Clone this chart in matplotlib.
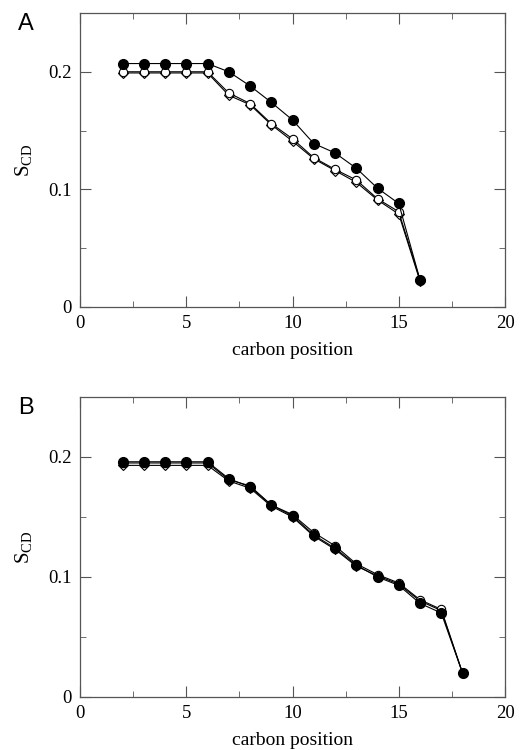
import matplotlib
matplotlib.use("Agg")
import matplotlib.pyplot as plt
from matplotlib.ticker import MultipleLocator, FuncFormatter

# panel A
carbon_a = [2, 3, 4, 5, 6, 7, 8, 9, 10, 11, 12, 13, 14, 15, 16]
a_filled = [0.207, 0.207, 0.207, 0.207, 0.207, 0.200, 0.188, 0.174, 0.159, 0.139, 0.131, 0.118, 0.101, 0.088, 0.023]
a_circle = [0.200, 0.200, 0.200, 0.200, 0.200, 0.182, 0.173, 0.156, 0.143, 0.127, 0.117, 0.108, 0.092, 0.081, 0.023]
a_diamond = [0.199, 0.199, 0.199, 0.199, 0.199, 0.180, 0.172, 0.155, 0.141, 0.126, 0.116, 0.106, 0.091, 0.079, 0.022]

# panel B
carbon_b = [2, 3, 4, 5, 6, 7, 8, 9, 10, 11, 12, 13, 14, 15, 16, 17, 18]
b_filled = [0.196, 0.196, 0.196, 0.196, 0.196, 0.182, 0.175, 0.160, 0.151, 0.135, 0.124, 0.110, 0.100, 0.093, 0.078, 0.070, 0.020]
b_circle = [0.195, 0.195, 0.195, 0.195, 0.195, 0.181, 0.176, 0.160, 0.152, 0.137, 0.126, 0.111, 0.102, 0.095, 0.081, 0.073, 0.020]
b_diamond = [0.193, 0.193, 0.193, 0.193, 0.193, 0.180, 0.174, 0.159, 0.150, 0.134, 0.123, 0.109, 0.101, 0.094, 0.080, 0.072, 0.020]

plt.rcParams["font.family"] = ["Liberation Serif", "DejaVu Serif"]
plt.rcParams["mathtext.fontset"] = "custom"
plt.rcParams["mathtext.rm"] = "Liberation Serif"
plt.rcParams["mathtext.it"] = "Liberation Serif"

fig = plt.figure(figsize=(5.23, 7.5), dpi=100)
ax_a = fig.add_axes([0.153, 0.5907, 0.8126, 0.392])
ax_b = fig.add_axes([0.153, 0.0707, 0.8126, 0.4])


def draw(ax, x, filled, circ, diam, letter):
    ax.plot(x, diam, color="black", lw=0.8, marker="D", ms=5.5, mfc="white", mec="black", mew=0.8, zorder=2)
    ax.plot(x, circ, color="black", lw=0.8, marker="o", ms=6, mfc="white", mec="black", mew=0.8, zorder=3)
    ax.plot(x, filled, color="black", lw=0.8, marker="o", ms=7, mfc="black", mec="black", zorder=4)
    ax.set_xlim(0, 20)
    ax.set_ylim(0, 0.25)
    ax.xaxis.set_major_locator(MultipleLocator(5))
    ax.xaxis.set_minor_locator(MultipleLocator(2.5))
    ax.yaxis.set_major_locator(MultipleLocator(0.1))
    ax.yaxis.set_minor_locator(MultipleLocator(0.05))
    ax.yaxis.set_major_formatter(FuncFormatter(lambda v, p: "0" if v == 0 else f"{v:.1f}"))
    ax.tick_params(which="both", direction="in", top=True, right=True, color="#555555")
    ax.tick_params(which="major", length=8, labelsize=13.5, pad=6)
    ax.tick_params(which="minor", length=4)
    for s in ax.spines.values():
        s.set_color("#555555")
        s.set_linewidth(0.9)
    ax.set_xlabel("carbon position", fontsize=14, labelpad=7)
    ax.set_ylabel(r"S$_{\mathrm{CD}}$", fontsize=15, labelpad=10)
    ax.text(-0.145, 1.0, letter, transform=ax.transAxes, fontsize=17,
            family=["Liberation Sans", "DejaVu Sans"], va="top", ha="left")


draw(ax_a, carbon_a, a_filled, a_circle, a_diamond, "A")
draw(ax_b, carbon_b, b_filled, b_circle, b_diamond, "B")

fig.savefig("out.png", dpi=100)
